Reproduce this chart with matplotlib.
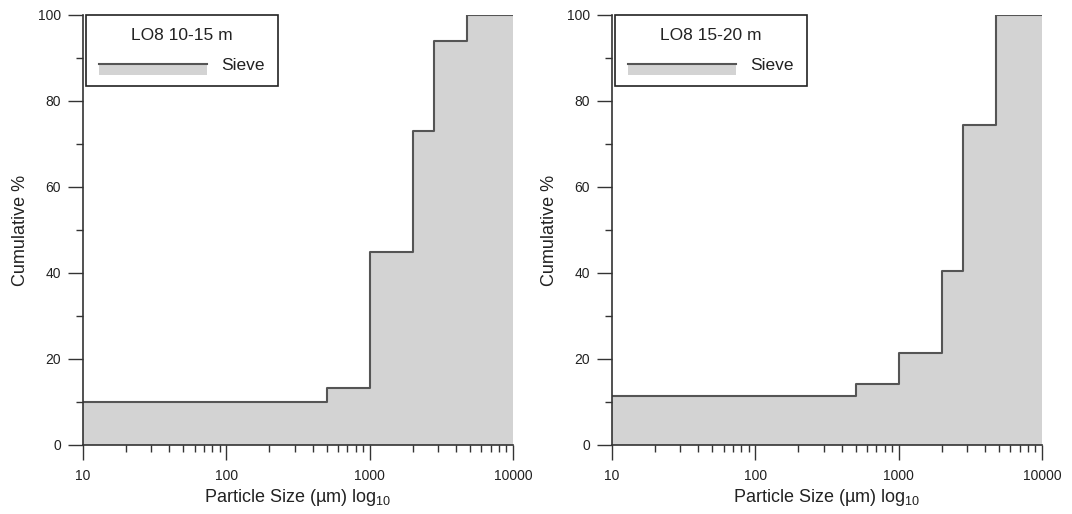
import numpy as np
import matplotlib
matplotlib.use("Agg")
import matplotlib.pyplot as plt
from matplotlib.legend_handler import HandlerBase
from matplotlib.patches import Rectangle
from matplotlib.lines import Line2D
from matplotlib.ticker import LogLocator, FixedLocator, NullFormatter

plt.rcParams["font.family"] = ["Liberation Sans", "DejaVu Sans"]
plt.rcParams["mathtext.default"] = "regular"

# sieve sizes (µm), cumulative % passing in each size interval
sizes = [10, 500, 1000, 2000, 2800, 4750, 10000]
cum_10_15 = [10.0, 13.3, 45.0, 73.0, 94.0, 100.0]
cum_15_20 = [11.5, 14.3, 21.5, 40.5, 74.5, 100.0]
titles = ["LO8 10-15 m", "LO8 15-20 m"]

FILL = "#d3d3d3"
LINE = "#555555"
TXT = "#333333"


class AreaHandler(HandlerBase):
    # line on top, grey band under it (like the area-fill legend in the original)
    def create_artists(self, legend, orig, xd, yd, w, h, fs, trans):
        yl = -yd + 0.5 * h
        r = Rectangle((-xd, yl - 0.9 * h), w, 0.9 * h, fc=FILL, ec="none", transform=trans)
        l = Line2D([-xd, -xd + w], [yl, yl], color=LINE, lw=1.5, transform=trans)
        return [r, l]


fig = plt.figure(figsize=(10.72, 5.14), dpi=100)
boxes = [[83 / 1072, 69 / 514, 430 / 1072, 430 / 514],
         [612 / 1072, 69 / 514, 430 / 1072, 430 / 514]]

for box, vals, ttl in zip(boxes, [cum_10_15, cum_15_20], titles):
    ax = fig.add_axes(box)
    y = vals + [vals[-1]]
    ax.fill_between(sizes, y, step="post", color=FILL, lw=0)
    ax.step(sizes, y, where="post", color=LINE, lw=1.5)
    ax.set_xscale("log")
    ax.set_xlim(10, 10000); ax.set_ylim(0, 100)
    ax.set_xticks([10, 100, 1000, 10000])
    ax.set_xticklabels(["10", "100", "1000", "10000"])
    ax.xaxis.set_minor_locator(LogLocator(base=10, subs=np.arange(2, 10)))
    ax.xaxis.set_minor_formatter(NullFormatter())
    ax.set_yticks(range(0, 101, 20))
    ax.yaxis.set_minor_locator(FixedLocator(range(10, 100, 20)))
    for s in ["top", "right"]:
        ax.spines[s].set_visible(False)
    for s in ["left", "bottom"]:
        ax.spines[s].set_color(TXT); ax.spines[s].set_linewidth(1.2)
    ax.tick_params(which="major", length=11, width=1, color=TXT, labelsize=10, labelcolor="#222222")
    ax.tick_params(axis="x", which="major", pad=6)
    ax.tick_params(axis="y", which="major", pad=5)
    ax.tick_params(which="minor", length=5, width=1, color=TXT)
    ax.set_ylabel("Cumulative %", fontsize=13, color="#222222", labelpad=6)
    ax.set_xlabel("Particle Size (µm) log$_{10}$", fontsize=13, color="#222222", labelpad=3)
    h = Rectangle((0, 0), 1, 1)
    leg = ax.legend([h], ["Sieve"], handler_map={Rectangle: AreaHandler()}, title=ttl,
                    loc="upper left", bbox_to_anchor=(0.008, 1.0), fancybox=False,
                    edgecolor="#222222", framealpha=1, fontsize=12.5, title_fontsize=12.5,
                    handlelength=6.2, handletextpad=0.8, borderpad=0.75, borderaxespad=0,
                    labelspacing=0.85)
    leg.get_frame().set_linewidth(1.2)
    leg.get_title().set_color("#222222")
    for t in leg.get_texts():
        t.set_color("#222222")
    leg.set_zorder(5)

fig.savefig("out.png", dpi=100)
